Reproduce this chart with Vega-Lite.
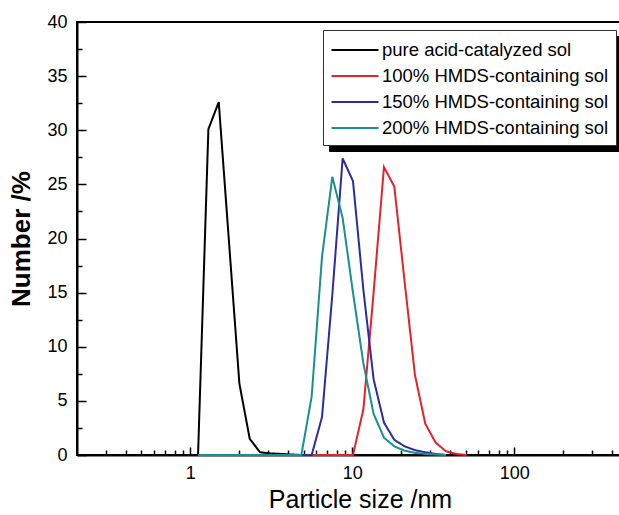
{
  "$schema": "https://vega.github.io/schema/vega-lite/v6.json",
  "width": 545,
  "height": 433,
  "autosize": {"type": "none"},
  "padding": {"left": 77, "top": 22, "right": 0, "bottom": 60},
  "background": "white",
  "config": {
    "view": {"stroke": "black", "strokeWidth": 2},
    "font": "Liberation Sans",
    "axis": {"domainColor": "black", "domainWidth": 2, "tickColor": "black", "tickWidth": 1.5, "labelColor": "black", "titleColor": "black", "grid": false, "labelFont": "Liberation Sans", "titleFont": "Liberation Sans"}
  },
  "data": {
    "values": [
      {"sample": "pure acid-catalyzed sol", "size": 1.117, "number": 0},
      {"sample": "pure acid-catalyzed sol", "size": 1.294, "number": 30.1},
      {"sample": "pure acid-catalyzed sol", "size": 1.499, "number": 32.6},
      {"sample": "pure acid-catalyzed sol", "size": 1.736, "number": 19.6},
      {"sample": "pure acid-catalyzed sol", "size": 2.010, "number": 6.6},
      {"sample": "pure acid-catalyzed sol", "size": 2.328, "number": 1.5},
      {"sample": "pure acid-catalyzed sol", "size": 2.696, "number": 0.25},
      {"sample": "pure acid-catalyzed sol", "size": 3.122, "number": 0.15},
      {"sample": "pure acid-catalyzed sol", "size": 3.615, "number": 0.1},
      {"sample": "pure acid-catalyzed sol", "size": 4.187, "number": 0.05},
      {"sample": "pure acid-catalyzed sol", "size": 4.849, "number": 0},
      {"sample": "100% HMDS-containing sol", "size": 4.849, "number": 0},
      {"sample": "100% HMDS-containing sol", "size": 5.615, "number": 0},
      {"sample": "100% HMDS-containing sol", "size": 6.503, "number": 0},
      {"sample": "100% HMDS-containing sol", "size": 7.531, "number": 0},
      {"sample": "100% HMDS-containing sol", "size": 8.721, "number": 0},
      {"sample": "100% HMDS-containing sol", "size": 10.10, "number": 0},
      {"sample": "100% HMDS-containing sol", "size": 11.70, "number": 4.2},
      {"sample": "100% HMDS-containing sol", "size": 13.54, "number": 15.0},
      {"sample": "100% HMDS-containing sol", "size": 15.69, "number": 26.6},
      {"sample": "100% HMDS-containing sol", "size": 18.17, "number": 24.8},
      {"sample": "100% HMDS-containing sol", "size": 21.04, "number": 16.0},
      {"sample": "100% HMDS-containing sol", "size": 24.36, "number": 7.4},
      {"sample": "100% HMDS-containing sol", "size": 28.21, "number": 2.9},
      {"sample": "100% HMDS-containing sol", "size": 32.67, "number": 1.15},
      {"sample": "100% HMDS-containing sol", "size": 37.84, "number": 0.35},
      {"sample": "100% HMDS-containing sol", "size": 43.82, "number": 0.1},
      {"sample": "100% HMDS-containing sol", "size": 50.75, "number": 0},
      {"sample": "150% HMDS-containing sol", "size": 4.187, "number": 0},
      {"sample": "150% HMDS-containing sol", "size": 4.849, "number": 0},
      {"sample": "150% HMDS-containing sol", "size": 5.615, "number": 0},
      {"sample": "150% HMDS-containing sol", "size": 6.503, "number": 3.5},
      {"sample": "150% HMDS-containing sol", "size": 7.531, "number": 14.8},
      {"sample": "150% HMDS-containing sol", "size": 8.721, "number": 27.4},
      {"sample": "150% HMDS-containing sol", "size": 10.10, "number": 25.3},
      {"sample": "150% HMDS-containing sol", "size": 11.70, "number": 15.3},
      {"sample": "150% HMDS-containing sol", "size": 13.54, "number": 7.0},
      {"sample": "150% HMDS-containing sol", "size": 15.69, "number": 3.0},
      {"sample": "150% HMDS-containing sol", "size": 18.17, "number": 1.4},
      {"sample": "150% HMDS-containing sol", "size": 21.04, "number": 0.8},
      {"sample": "150% HMDS-containing sol", "size": 24.36, "number": 0.45},
      {"sample": "150% HMDS-containing sol", "size": 28.21, "number": 0.25},
      {"sample": "150% HMDS-containing sol", "size": 32.67, "number": 0.1},
      {"sample": "150% HMDS-containing sol", "size": 37.84, "number": 0},
      {"sample": "200% HMDS-containing sol", "size": 1.117, "number": 0},
      {"sample": "200% HMDS-containing sol", "size": 2.010, "number": 0},
      {"sample": "200% HMDS-containing sol", "size": 3.122, "number": 0},
      {"sample": "200% HMDS-containing sol", "size": 4.187, "number": 0},
      {"sample": "200% HMDS-containing sol", "size": 4.849, "number": 0},
      {"sample": "200% HMDS-containing sol", "size": 5.615, "number": 5.4},
      {"sample": "200% HMDS-containing sol", "size": 6.503, "number": 18.3},
      {"sample": "200% HMDS-containing sol", "size": 7.531, "number": 25.7},
      {"sample": "200% HMDS-containing sol", "size": 8.721, "number": 21.9},
      {"sample": "200% HMDS-containing sol", "size": 10.10, "number": 15.0},
      {"sample": "200% HMDS-containing sol", "size": 11.70, "number": 8.5},
      {"sample": "200% HMDS-containing sol", "size": 13.54, "number": 3.8},
      {"sample": "200% HMDS-containing sol", "size": 15.69, "number": 1.6},
      {"sample": "200% HMDS-containing sol", "size": 18.17, "number": 0.8},
      {"sample": "200% HMDS-containing sol", "size": 21.04, "number": 0.4},
      {"sample": "200% HMDS-containing sol", "size": 24.36, "number": 0.2},
      {"sample": "200% HMDS-containing sol", "size": 28.21, "number": 0.1},
      {"sample": "200% HMDS-containing sol", "size": 32.67, "number": 0.05},
      {"sample": "200% HMDS-containing sol", "size": 37.84, "number": 0}
    ]
  },
  "mark": {"type": "line", "strokeWidth": 2},
  "encoding": {
    "x": {
      "field": "size",
      "type": "quantitative",
      "scale": {"type": "log", "domain": [0.2, 462]},
      "axis": {
        "title": "Particle size /nm",
        "titleFontSize": 25,
        "titleFontWeight": "normal",
        "titlePadding": 5,
        "titleX": 283,
        "labelFontSize": 18,
        "labelPadding": 17,
        "values": [0.3, 0.4, 0.5, 0.6, 0.7, 0.8, 0.9, 1, 2, 3, 4, 5, 6, 7, 8, 9, 10, 20, 30, 40, 50, 60, 70, 80, 90, 100, 200, 300, 400],
        "labelExpr": "datum.value == 1 || datum.value == 10 || datum.value == 100 ? format(datum.value, 'd') : ''",
        "tickSize": {"condition": {"test": "datum.value == 1 || datum.value == 10 || datum.value == 100", "value": -8}, "value": -5}
      }
    },
    "y": {
      "field": "number",
      "type": "quantitative",
      "scale": {"domain": [0, 40]},
      "axis": {
        "title": "Number /%",
        "titleFontSize": 26,
        "titleFontWeight": "bold",
        "titlePadding": 12,
        "labelFontSize": 18,
        "labelPadding": 19,
        "values": [0, 2.5, 5, 7.5, 10, 12.5, 15, 17.5, 20, 22.5, 25, 27.5, 30, 32.5, 35, 37.5, 40],
        "labelExpr": "datum.value % 5 === 0 ? format(datum.value, 'd') : ''",
        "tickSize": {"condition": {"test": "datum.value % 5 === 0", "value": -9}, "value": -5}
      }
    },
    "color": {
      "field": "sample",
      "type": "nominal",
      "sort": ["pure acid-catalyzed sol", "100% HMDS-containing sol", "150% HMDS-containing sol", "200% HMDS-containing sol"],
      "scale": {
        "domain": ["pure acid-catalyzed sol", "100% HMDS-containing sol", "150% HMDS-containing sol", "200% HMDS-containing sol"],
        "range": ["#000000", "#e3222b", "#2c2ca0", "#17908f"]
      },
      "legend": {
        "title": null,
        "orient": "none",
        "legendX": 246,
        "legendY": 8,
        "zindex": 2,
        "fillColor": "white",
        "strokeColor": "#333333",
        "padding": 7,
        "symbolType": "M-2,0H2",
        "symbolSize": 552,
        "symbolOffset": 12,
        "symbolStrokeWidth": 2,
        "labelFontSize": 18.5,
        "labelFont": "Liberation Sans",
        "labelColor": "black",
        "labelOffset": 14,
        "rowPadding": 3,
        "labelLimit": 400
      }
    },
    "strokeDash": {
      "field": "sample",
      "type": "nominal",
      "scale": {
        "domain": ["200% HMDS-containing sol", "150% HMDS-containing sol", "100% HMDS-containing sol", "pure acid-catalyzed sol"],
        "range": [[1, 0], [1, 0], [1, 0], [1, 0]]
      },
      "legend": {
        "title": null,
        "orient": "none",
        "legendX": 252,
        "legendY": 14,
        "zindex": 1,
        "fillColor": "black",
        "strokeColor": "black",
        "padding": 7,
        "symbolType": "M-2,0H21.6",
        "symbolSize": 552,
        "symbolOffset": 12,
        "symbolStrokeWidth": 2,
        "symbolStrokeColor": "black",
        "labelFontSize": 18.5,
        "labelFont": "Liberation Sans",
        "labelColor": "black",
        "labelExpr": "''",
        "labelOffset": 0,
        "rowPadding": 3,
        "labelLimit": 400
      }
    }
  }
}
